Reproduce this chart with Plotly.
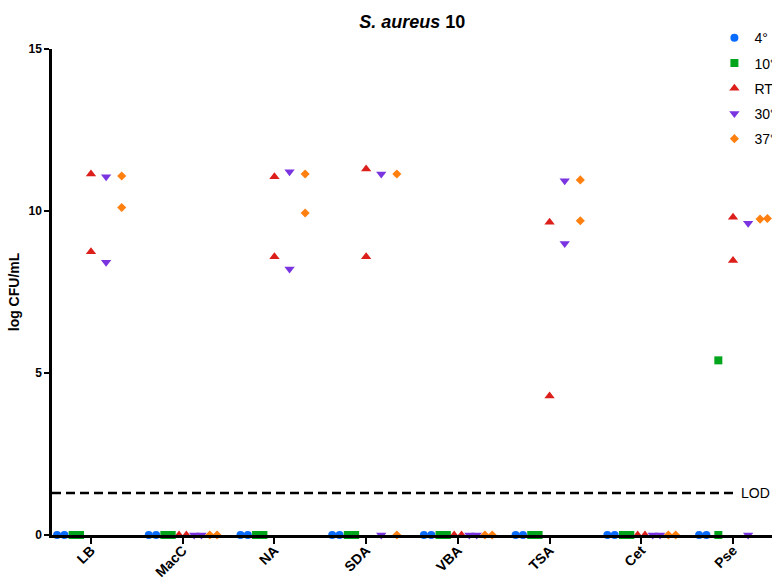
import plotly.graph_objects as go

# ---------------- data ----------------
categories = ["LB", "MacC", "NA", "SDA", "VBA", "TSA", "Cet", "Pse"]
series_names = ["4°", "10°", "RT", "30°", "37°"]

# two replicates per medium (log CFU/mL)
temp_4 = [[0, 0], [0, 0], [0, 0], [0, 0], [0, 0], [0, 0], [0, 0], [0, 0]]
temp_10 = [[0, 0], [0, 0], [0, 0], [0, 0], [0, 0], [0, 0], [0, 0], [5.39, 0]]
temp_RT = [[11.14, 8.74], [0, 0], [11.06, 8.59], [11.30, 8.59], [0, 0], [9.65, 4.29], [0, 0], [9.81, 8.47]]
temp_30 = [[11.06, 8.42], [0, 0], [11.21, 8.21], [11.14, 0], [0, 0], [10.93, 9.00], [0, 0], [9.62, 0]]
temp_37 = [[11.08, 10.11], [0, 0], [11.14, 9.94], [11.14, 0], [0, 0], [10.96, 9.70], [0, 0], [9.75, 9.77]]

LOD = 1.3
y_ticks = [0, 5, 10, 15]

# ---------------- style ----------------
colors = ["#0a6cff", "#00a51c", "#dc1f1a", "#7a35e0", "#ff7f0f"]
symbols = ["circle", "square", "triangle-up", "triangle-down", "diamond"]
sizes = [8, 8, 9, 9, 7]
offsets = [-0.33, -0.16, 0.0, 0.165, 0.335]
dodge = 0.04
FONT = "Arial, 'Liberation Sans', Helvetica, sans-serif"

all_series = [temp_4, temp_10, temp_RT, temp_30, temp_37]

fig = go.Figure()
for s, (name, data) in enumerate(zip(series_names, all_series)):
    xs, ys = [], []
    for ci, reps in enumerate(data):
        n = len(reps)
        for ri, v in enumerate(reps):
            # dodge replicates with (nearly) equal values
            close = [j for j in range(n) if abs(reps[j] - v) < 0.3]
            if len(close) > 1:
                k = close.index(ri)
                d = (k - (len(close) - 1) / 2) * 2 * dodge
            else:
                d = 0
            xs.append(ci + offsets[s] + d)
            ys.append(v)
    fig.add_trace(go.Scatter(
        x=xs, y=ys, mode="markers", name=name, legendgroup=name,
        marker=dict(color=colors[s], symbol=symbols[s], size=sizes[s], line=dict(width=0)),
        cliponaxis=False,
    ))

# LOD line
fig.add_shape(type="line", xref="paper", yref="y", x0=0, x1=0.949, y0=LOD, y1=LOD,
              line=dict(color="black", width=2.5, dash="9px,5px"))
fig.add_annotation(xref="paper", yref="y", x=0.957, y=LOD, text="LOD", showarrow=False,
                   xanchor="left", yanchor="middle", xshift=-2,
                   font=dict(size=14, color="black", family=FONT))

fig.update_layout(
    width=772, height=578,
    margin=dict(l=52, r=0, t=49, b=43, autoexpand=False),
    plot_bgcolor="white", paper_bgcolor="white",
    title=dict(text="<b><i>S. aureus</i> 10</b>", x=0.534, xanchor="center", y=0.962, yanchor="middle",
               font=dict(size=18, color="black", family=FONT)),
    font=dict(family=FONT, color="black"),
    legend=dict(x=0.920, y=1.055, xanchor="left", yanchor="top", font=dict(size=14, color="black"),
                tracegroupgap=4, bgcolor="rgba(0,0,0,0)"),
    showlegend=True,
)

fig.update_xaxes(
    range=[-0.425, 7.425], tickvals=list(range(len(categories))), ticktext=[f"<b>{c}</b>" for c in categories],
    tickangle=-45, ticks="outside", ticklen=6, tickwidth=2, tickcolor="black",
    showline=True, linecolor="black", linewidth=2.5, showgrid=False, zeroline=False,
    tickfont=dict(size=14, color="black", family=FONT), automargin=False, ticklabelstandoff=-7,
)
fig.update_yaxes(
    range=[0, 15], tickvals=y_ticks, ticktext=[f"<b>{t}</b>" for t in y_ticks],
    ticks="outside", ticklen=5, tickwidth=2, tickcolor="black",
    showline=True, linecolor="black", linewidth=2.5, showgrid=False, zeroline=False,
    tickfont=dict(size=12, color="black", family=FONT), automargin=False,
    title=dict(text="<b>log CFU/mL</b>", font=dict(size=14, color="black", family=FONT), standoff=6),
)

fig.write_html("out.html")
